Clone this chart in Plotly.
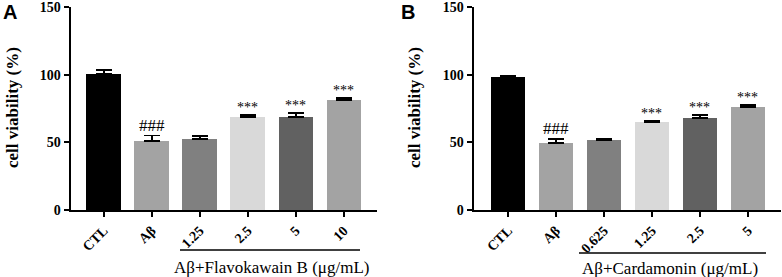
import plotly.graph_objects as go

W, H = 782, 277

# ---- data ----
cats_a = ["CTL", "Aβ", "1.25", "2.5", "5", "10"]
vals_a = [100.5, 51.0, 52.5, 69.0, 69.0, 81.5]
errs_a = [3.0, 4.0, 2.0, 1.3, 2.5, 1.0]
sig_a = ["", "###", "", "***", "***", "***"]

cats_b = ["CTL", "Aβ", "0.625", "1.25", "2.5", "5"]
vals_b = [98.5, 49.5, 51.5, 65.0, 67.8, 76.0]
errs_b = [0.8, 3.0, 1.0, 1.0, 2.4, 1.7]
sig_b = ["", "###", "", "***", "***", "***"]

colors = ["#000000", "#a3a3a3", "#808080", "#d9d9d9", "#616161", "#a3a3a3"]
yticks = [0, 50, 100, 150]
ytitle = "cell viability (%)"
group_a = "Aβ+Flavokawain B (μg/mL)"
group_b = "Aβ+Cardamonin (μg/mL)"

SERIF = "Liberation Serif"
SANS = "Liberation Sans"

def px_x(p):
    return p / W

def px_y(p):
    return 1 - p / H

fig = go.Figure()

panels = [
    (cats_a, vals_a, errs_a, sig_a, "x", "y"),
    (cats_b, vals_b, errs_b, sig_b, "x2", "y2"),
]

ydom = [px_y(210), px_y(7)]

for cats, vals, errs, sigs, xa, ya in panels:
    xs = list(range(len(cats)))
    fig.add_trace(go.Bar(
        x=xs, y=vals, width=0.72, marker=dict(color=colors, line=dict(width=0)),
        error_y=dict(type="data", array=errs, arrayminus=[0] * len(errs), symmetric=False,
                     color="#000000", thickness=1.8, width=8),
        xaxis=xa, yaxis=ya, showlegend=False, hoverinfo="skip",
    ))
    for i, s in enumerate(sigs):
        if s:
            fig.add_annotation(x=i, y=vals[i] + errs[i], xref=xa, yref=ya, text=s,
                               showarrow=False, xanchor="center", yanchor="bottom",
                               yshift=-1 if s == "###" else -2,
                               font=dict(family=SERIF, size=17 if s == "###" else 14, color="#000000"))

axis_common = dict(showgrid=False, zeroline=False, showline=True, linecolor="#000", linewidth=2,
                   ticks="outside", tickcolor="#000", tickwidth=2, ticklen=5, automargin=False,
                   ticklabeloverflow="allow", fixedrange=True)
tick_font = dict(family=SERIF, size=14, color="#000", weight="bold")

fig.update_layout(
    width=W, height=H, margin=dict(l=0, r=0, t=0, b=0, autoexpand=False),
    plot_bgcolor="white", paper_bgcolor="white", bargap=0,
    xaxis=dict(domain=[px_x(70.5), px_x(377)], range=[-0.69, 5.69], anchor="y",
               tickvals=list(range(6)), ticktext=cats_a, tickangle=-45,
               tickfont=tick_font, **axis_common),
    yaxis=dict(domain=ydom, range=[0, 150], anchor="x", tickvals=yticks,
               tickfont=tick_font, **axis_common),
    xaxis2=dict(domain=[px_x(473.5), px_x(781)], range=[-0.72, 5.69], anchor="y2",
                tickvals=list(range(6)), ticktext=cats_b, tickangle=-45,
                tickfont=tick_font, **axis_common),
    yaxis2=dict(domain=ydom, range=[0, 150], anchor="x2", tickvals=yticks,
                tickfont=tick_font, **axis_common),
)

# y titles
for xc in (12, 414):
    fig.add_annotation(x=px_x(xc), y=px_y(108), xref="paper", yref="paper", text="<b>" + ytitle + "</b>",
                       textangle=-90, showarrow=False, xanchor="center", yanchor="middle",
                       font=dict(family=SERIF, size=17, color="#000"))

# panel letters
for xc, letter in ((10, "A"), (408, "B")):
    fig.add_annotation(x=px_x(xc), y=px_y(12), xref="paper", yref="paper", text="<b>" + letter + "</b>",
                       showarrow=False, xanchor="center", yanchor="middle",
                       font=dict(family=SANS, size=20, color="#000"))

# group brackets
for (x0, x1, yl, xt, yt, txt) in ((180, 360, 250, 271, 267, group_a),
                                  (579, 766, 253, 670, 268, group_b)):
    fig.add_shape(type="line", xref="paper", yref="paper", x0=px_x(x0), x1=px_x(x1),
                  y0=px_y(yl), y1=px_y(yl), line=dict(color="#000", width=1.5))
    fig.add_annotation(x=px_x(xt), y=px_y(yt), xref="paper", yref="paper", text=txt,
                       showarrow=False, xanchor="center", yanchor="middle",
                       font=dict(family=SERIF, size=17, color="#000"))

fig.write_html("out.html", config={"displayModeBar": False, "staticPlot": True},
               post_script="document.body.style.margin='0';document.body.style.overflow='hidden';")
